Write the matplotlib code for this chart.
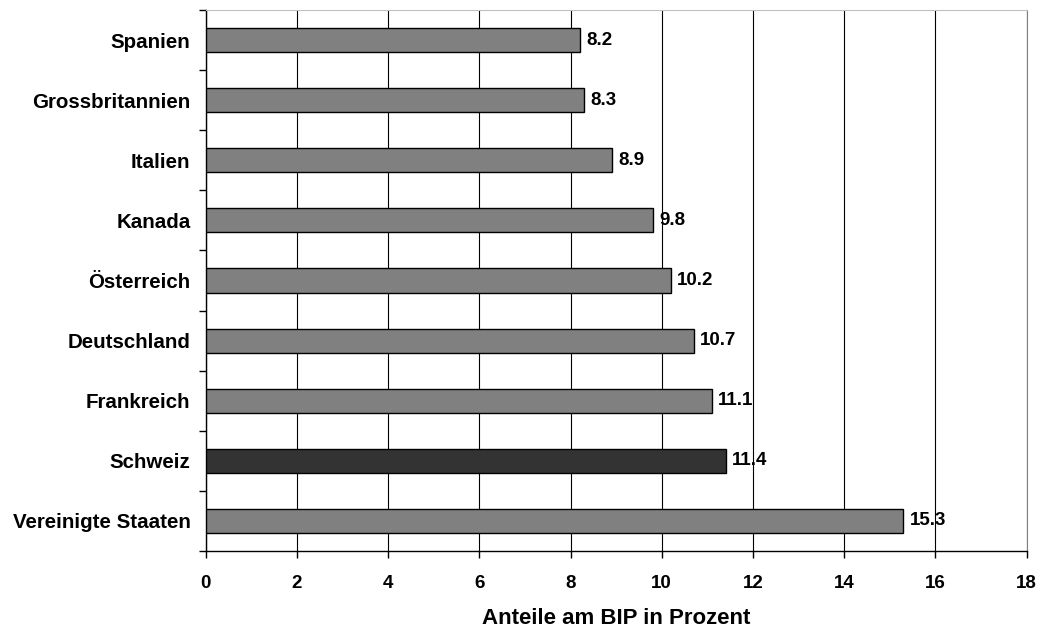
import matplotlib.pyplot as plt
import numpy as np

plt.rcParams['font.family'] = ['Liberation Sans', 'DejaVu Sans']

laender = ['Spanien', 'Grossbritannien', 'Italien', 'Kanada', 'Österreich',
           'Deutschland', 'Frankreich', 'Schweiz', 'Vereinigte Staaten']
anteile = [8.2, 8.3, 8.9, 9.8, 10.2, 10.7, 11.1, 11.4, 15.3]
x_ticks = [0, 2, 4, 6, 8, 10, 12, 14, 16, 18]

fig = plt.figure(figsize=(10.39, 6.30), dpi=100)
ax = fig.add_axes([0.198, 0.1254, 0.79, 0.8587])

y = np.arange(len(laender))
farben = ['#333333' if l == 'Schweiz' else '#808080' for l in laender]
bars = ax.barh(y, anteile, height=0.4, color=farben, edgecolor='black',
               linewidth=1.0, zorder=3)

for b, v in zip(bars, anteile):
    ax.text(b.get_width() + 0.14, b.get_y() + b.get_height() / 2, f'{v:.1f}',
            va='center', ha='left', fontsize=13.5, fontweight='bold')

ax.set_xlim(0, 18)
ax.set_ylim(len(laender) - 0.5, -0.5)
ax.set_xticks(x_ticks)
ax.set_xticklabels([str(t) for t in x_ticks], fontsize=13.5, fontweight='bold')
ax.set_yticks(y)
ax.set_yticklabels(laender, fontsize=14.8, fontweight='bold')
ax.tick_params(axis='y', length=0, pad=11)
ax.set_yticks(np.arange(-0.5, len(laender), 1.0), minor=True)
ax.tick_params(axis='y', which='minor', length=5, width=1.0, direction='out')
ax.tick_params(axis='x', length=5, width=1.0, direction='out', pad=12)

ax.grid(axis='x', color='black', linewidth=0.8, zorder=0)
ax.spines['top'].set_color('#c0c0c0')
ax.spines['right'].set_color('#808080')
ax.spines['left'].set_linewidth(1.0)
ax.spines['bottom'].set_linewidth(1.0)

ax.set_xlabel('Anteile am BIP in Prozent', fontsize=16, fontweight='bold',
              labelpad=12)

fig.savefig('out.png', dpi=100)
